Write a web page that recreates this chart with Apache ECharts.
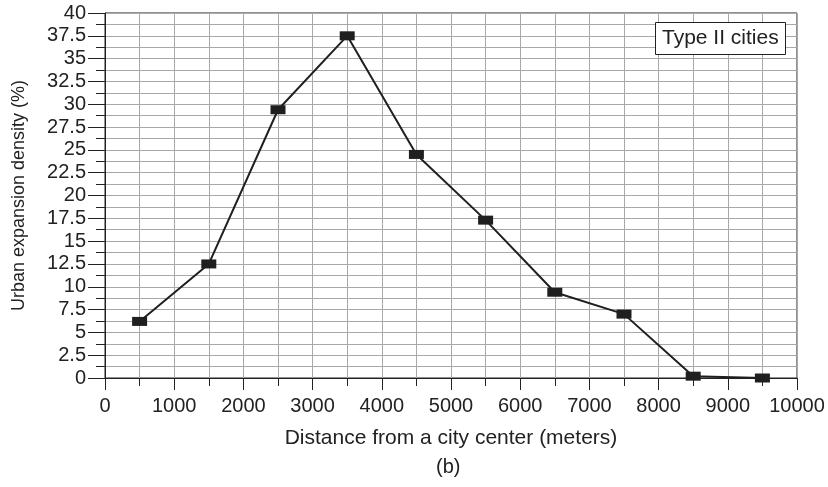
<!DOCTYPE html>
<html>
<head>
<meta charset="utf-8">
<script src="https://cdn.jsdelivr.net/npm/echarts@6/dist/echarts.min.js"></script>
<style>
html,body{margin:0;padding:0;background:#fff;}
#chart{width:828px;height:487px;}
</style>
</head>
<body>
<div id="chart"></div>
<script>
var distances = [500, 1500, 2500, 3500, 4500, 5500, 6500, 7500, 8500, 9500];
var density = [6.2, 12.5, 29.4, 37.5, 24.5, 17.3, 9.4, 7.0, 0.2, 0.0];
var seriesName = 'Type II cities';
var xTitle = 'Distance from a city center (meters)';
var yTitle = 'Urban expansion density (%)';
var caption = '(b)';

var chart = echarts.init(document.getElementById('chart'), null, {renderer: 'canvas'});
var font = 'Liberation Sans, Arial, sans-serif';
var textColor = '#222';
var gridColor = '#a8a8a8';

chart.setOption({
  animation: false,
  backgroundColor: '#fff',
  title: {
    text: seriesName,
    left: 655, top: 22,
    padding: [6, 7],
    borderColor: '#222', borderWidth: 1,
    backgroundColor: '#fff',
    textStyle: {fontFamily: font, fontSize: 21, fontWeight: 'normal', color: textColor}
  },
  grid: {
    left: 105, top: 13, right: 31, bottom: 109,
    show: true, borderColor: '#222', borderWidth: 1, backgroundColor: 'transparent'
  },
  xAxis: {
    type: 'value', min: 0, max: 10000, interval: 1000,
    name: xTitle, nameLocation: 'middle', nameGap: 50,
    nameTextStyle: {fontFamily: font, fontSize: 21, color: textColor},
    axisLine: {show: true, lineStyle: {color: '#222', width: 1}},
    axisTick: {show: true, length: 12, lineStyle: {color: '#222', width: 1}},
    minorTick: {show: true, splitNumber: 2, length: 8, lineStyle: {color: '#222', width: 1}},
    axisLabel: {fontFamily: font, fontSize: 20, color: textColor, margin: 18,
      formatter: function (v) { return String(v); }},
    splitLine: {show: true, lineStyle: {color: gridColor, width: 1}},
    minorSplitLine: {show: true, lineStyle: {color: gridColor, width: 1}}
  },
  yAxis: {
    type: 'value', min: 0, max: 40, interval: 2.5,
    name: yTitle, nameLocation: 'middle', nameGap: 77,
    nameTextStyle: {fontFamily: font, fontSize: 18, color: textColor},
    axisLine: {show: true, lineStyle: {color: '#222', width: 1}},
    axisTick: {show: true, length: 17, lineStyle: {color: '#222', width: 1}},
    minorTick: {show: true, splitNumber: 2, length: 9, lineStyle: {color: '#222', width: 1}},
    axisLabel: {fontFamily: font, fontSize: 20, color: textColor, margin: 19,
      formatter: function (v) { return String(v); }},
    splitLine: {show: true, lineStyle: {color: gridColor, width: 1}},
    minorSplitLine: {show: true, lineStyle: {color: gridColor, width: 1}}
  },
  graphic: [{
    type: 'text', left: 436, top: 457,
    style: {text: caption, font: '20px Liberation Sans, Arial, sans-serif', fill: textColor}
  }],
  series: [{
    type: 'line',
    name: seriesName,
    data: distances.map(function (d, i) { return [d, density[i]]; }),
    symbol: 'rect', symbolSize: [15, 9],
    itemStyle: {color: '#1f1f1f'},
    lineStyle: {color: '#1f1f1f', width: 2}
  }]
});
</script>
</body>
</html>
